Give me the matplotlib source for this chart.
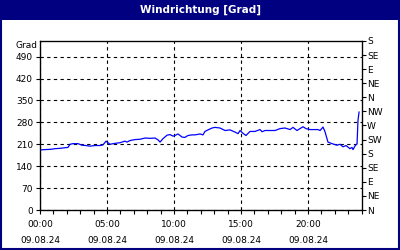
import matplotlib
matplotlib.use('Agg')
import matplotlib.pyplot as plt
from matplotlib.patches import Rectangle

# Wind direction over the day (hours, degrees)
hours = [0.0, 0.37, 0.82, 1.12, 1.49, 1.87, 2.09, 2.24, 2.46, 2.84, 3.13, 3.43, 3.73,
         4.10, 4.48, 4.70, 4.93, 5.22, 5.60, 5.97, 6.34, 6.49, 6.72, 7.09, 7.46, 7.84,
         8.21, 8.58, 8.81, 8.96, 9.18, 9.48, 9.70, 9.93, 10.07, 10.30, 10.60, 10.82,
         11.04, 11.34, 11.57, 11.94, 12.16, 12.31, 12.54, 12.84, 13.06, 13.43, 13.81,
         14.18, 14.55, 14.78, 14.93, 15.15, 15.37, 15.67, 16.04, 16.42, 16.57, 16.79,
         17.16, 17.54, 17.91, 18.28, 18.51, 18.66, 18.88, 19.18, 19.40, 19.63, 19.85,
         20.15, 20.52, 20.75, 20.90, 21.12, 21.27, 21.49, 21.79, 22.16, 22.39, 22.61,
         22.84, 23.13, 23.28, 23.36, 23.51, 23.66, 23.73, 23.81]
grad = [192, 193, 194, 196, 197, 199, 200, 210, 212, 212, 207, 206, 204,
        206, 206, 208, 220, 210, 213, 215, 220, 217, 222, 225, 226, 230,
        229, 230, 224, 217, 228, 239, 241, 236, 238, 243, 233, 232,
        238, 240, 240, 243, 240, 251, 256, 262, 264, 262, 254,
        256, 249, 244, 254, 245, 238, 251, 251, 257, 250, 254,
        254, 254, 260, 262, 259, 257, 264, 254, 260, 266, 260,
        257, 257, 257, 254, 265, 250, 217, 212, 207, 210, 202,
        206, 196, 200, 193, 205, 212, 286, 313]

y_ticks = [0, 70, 140, 210, 280, 350, 420, 490]
dir_ticks = [0, 45, 90, 135, 180, 225, 270, 315, 360, 405, 450, 495, 540]
dir_labels = ['N', 'NE', 'E', 'SE', 'S', 'SW', 'W', 'NW', 'N', 'NE', 'E', 'SE', 'S']
x_ticks = [0, 5, 10, 15, 20]
x_labels = ['00:00\n09.08.24', '05:00\n09.08.24', '10:00\n09.08.24',
            '15:00\n09.08.24', '20:00\n09.08.24']

navy = '#000080'
plt.rcParams['font.family'] = ['DejaVu Sans']

fig = plt.figure(figsize=(4, 2.5), dpi=100)
fig.patch.set_facecolor('white')

# title bar and frame
fig.patches.append(Rectangle((0, 0.92), 1, 0.08, transform=fig.transFigure,
                             facecolor=navy, edgecolor='none'))
fig.patches.append(Rectangle((0.002, 0.003), 0.995, 0.994, transform=fig.transFigure,
                             facecolor='none', edgecolor=navy, linewidth=1.5))
fig.text(0.5, 0.96, 'Windrichtung [Grad]', color='white', fontsize=7.5,
         fontweight='bold', ha='center', va='center')

ax = fig.add_axes([0.1, 0.16, 0.804, 0.676])
ax.plot(hours, grad, color='#0000ff', linewidth=0.9)
ax.set_xlim(0, 24)
ax.set_ylim(0, 540)

ax.set_yticks(y_ticks)
ax.set_xticks(x_ticks)
ax.set_xticklabels(x_labels, linespacing=2.0)
ax.set_xticks(range(25), minor=True)
ax.tick_params(axis='both', labelsize=6.5, length=3, width=0.8, pad=2)
ax.tick_params(axis='x', which='minor', length=3, width=0.8)
ax.tick_params(axis='x', pad=4)
ax.grid(True, color='black', linestyle=(0, (3, 3)), linewidth=0.8)
for s in ax.spines.values():
    s.set_linewidth(0.9)

ax2 = ax.twinx()
ax2.set_ylim(0, 540)
ax2.set_yticks(dir_ticks)
ax2.set_yticklabels(dir_labels)
ax2.tick_params(axis='y', labelsize=6.5, length=3, width=0.8, pad=1)

fig.text(0.0925, 0.818, 'Grad', fontsize=6.5, ha='right', va='center')

fig.savefig('out.png', dpi=100)
